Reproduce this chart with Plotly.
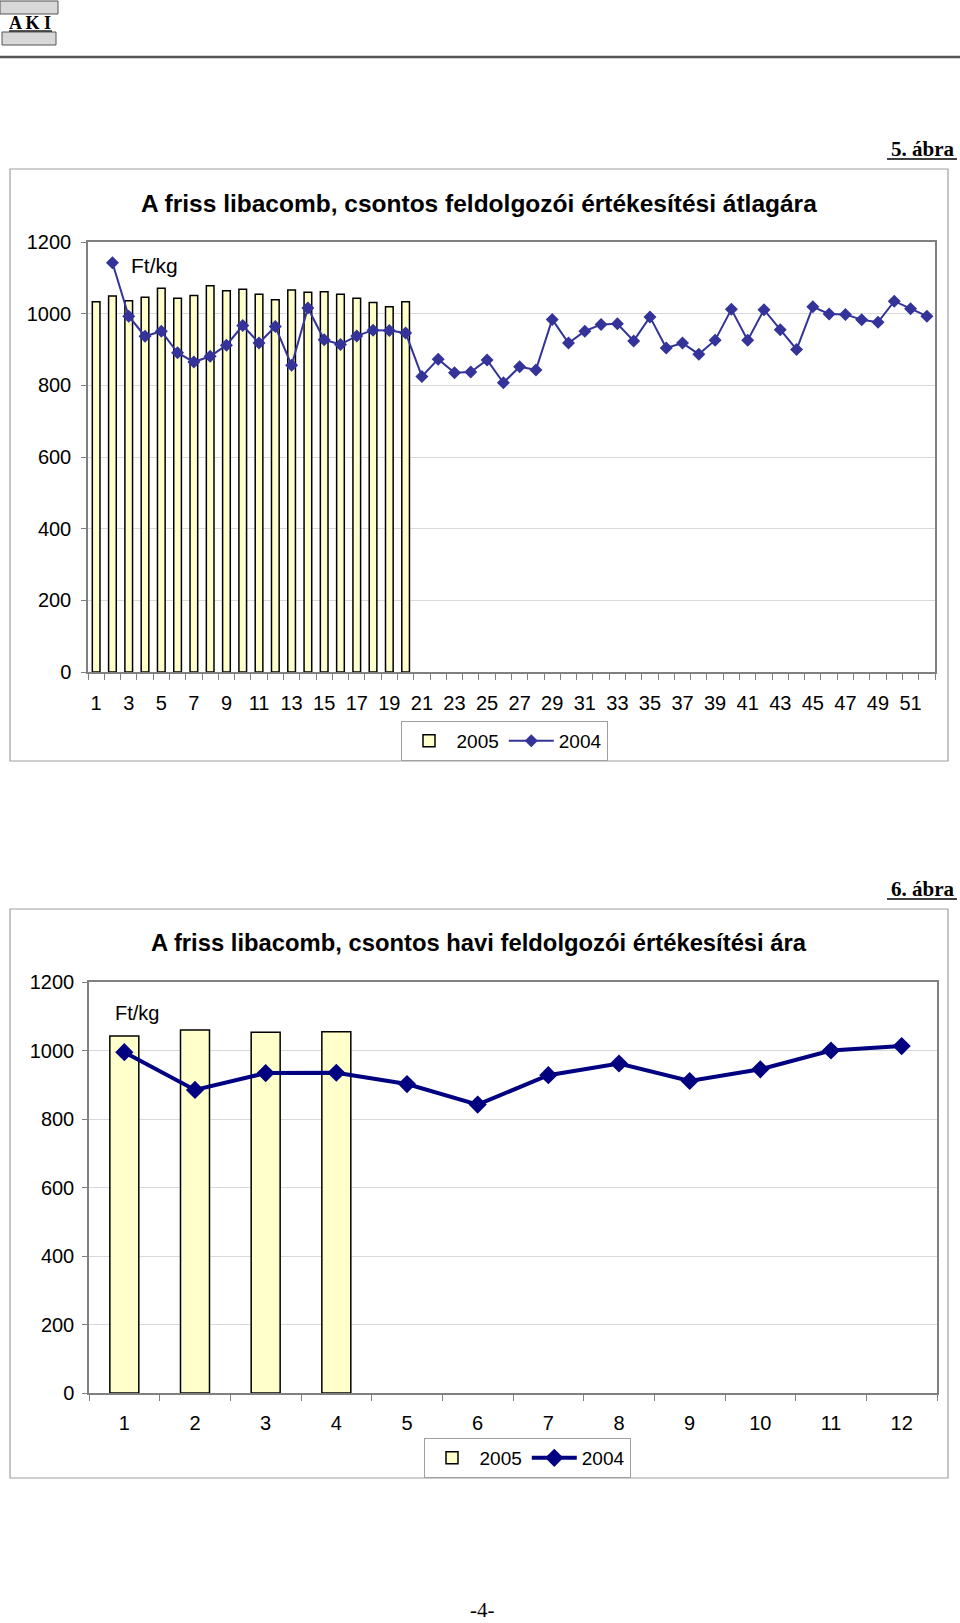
import plotly.graph_objects as go

# ---------------- data ----------------
# Chart 1 (5. ábra): weekly prices, Ft/kg
weeks_2005 = list(range(1, 21))
price_2005_weekly = [1033, 1049, 1036, 1046, 1071, 1043, 1051, 1078, 1064, 1068,
                     1054, 1039, 1066, 1060, 1061, 1054, 1043, 1031, 1019, 1033]
weeks_2004 = list(range(2, 53))
price_2004_weekly = [1142, 993, 937, 951, 891, 865, 881, 912, 967, 918,
                     964, 856, 1016, 927, 914, 938, 954, 953, 946, 825,
                     873, 835, 837, 871, 807, 852, 843, 984, 918, 951,
                     970, 972, 924, 991, 904, 918, 887, 926, 1012, 926,
                     1011, 955, 900, 1019, 999, 998, 983, 976, 1035, 1014, 993]
week_tick_vals = [1, 3, 5, 7, 9, 11, 13, 15, 17, 19, 21, 23, 25, 27, 29, 31, 33,
                  35, 37, 39, 41, 43, 45, 47, 49, 51]
week_tick_text = ["1", "3", "5", "7", "9", "11", "13", "15", "17", "19", "21", "23",
                  "25", "27", "29", "31", "33", "35", "37", "39", "41", "43", "45",
                  "47", "49", "51"]

# Chart 2 (6. ábra): monthly prices, Ft/kg
months_2005 = [1, 2, 3, 4]
price_2005_monthly = [1042, 1060, 1053, 1055]
months_2004 = [1, 2, 3, 4, 5, 6, 7, 8, 9, 10, 11, 12]
price_2004_monthly = [995, 885, 934, 935, 902, 842, 928, 962, 911, 945, 1000, 1013]
month_tick_text = ["1", "2", "3", "4", "5", "6", "7", "8", "9", "10", "11", "12"]

W, H = 960, 1623
FONT = "Arial, Liberation Sans, sans-serif"
SERIF = "Times New Roman, Liberation Serif, serif"


def px(x):
    return x / W


def py(y):
    return 1 - y / H


fig = go.Figure()

# ---- chart 1 traces ----
fig.add_trace(go.Bar(
    x=weeks_2005, y=price_2005_weekly, name="2005", width=0.47,
    marker=dict(color="#FFFFCC", line=dict(color="black", width=1.5)),
    xaxis="x", yaxis="y", legend="legend"))
fig.add_trace(go.Scatter(
    x=weeks_2004, y=price_2004_weekly, name="2004", mode="lines+markers",
    line=dict(color="#333399", width=2),
    marker=dict(symbol="diamond", size=10, color="#333399"),
    xaxis="x", yaxis="y", legend="legend"))

# ---- chart 2 traces ----
fig.add_trace(go.Bar(
    x=months_2005, y=price_2005_monthly, name="2005", width=0.41,
    marker=dict(color="#FFFFCC", line=dict(color="black", width=1.5)),
    xaxis="x2", yaxis="y2", legend="legend2"))
fig.add_trace(go.Scatter(
    x=months_2004, y=price_2004_monthly, name="2004", mode="lines+markers",
    line=dict(color="#000080", width=4),
    marker=dict(symbol="diamond", size=14, color="#000080"),
    xaxis="x2", yaxis="y2", legend="legend2"))

axis_font = dict(family=FONT, size=20, color="black")
common_y = dict(range=[0, 1200], dtick=200, tick0=0, showgrid=True, gridcolor="#D9D9D9",
                gridwidth=1, showline=True, linecolor="#808080", linewidth=1.5,
                mirror=True, ticks="outside", ticklen=5, tickcolor="#808080",
                tickfont=axis_font, zeroline=False, fixedrange=True)

fig.update_layout(
    width=W, height=H, margin=dict(l=0, r=0, t=0, b=0, pad=0, autoexpand=False),
    paper_bgcolor="white", plot_bgcolor="white", barmode="overlay",
    font=dict(family=FONT, color="black"),
    xaxis=dict(domain=[px(88), px(935)], anchor="y", range=[0.5, 52.5],
               tickmode="array", tickvals=week_tick_vals, ticktext=week_tick_text,
               ticks="", tickfont=axis_font, showgrid=False, zeroline=False,
               showline=True, linecolor="#808080", linewidth=1.5, mirror=True,
               ticklabelstandoff=12,
               minor=dict(tickmode="array", tickvals=[i + 0.5 for i in range(0, 53)],
                          ticks="outside", ticklen=6, tickcolor="#808080", showgrid=False)),
    yaxis=dict(domain=[py(672), py(242)], anchor="x", ticklabelstandoff=6, **common_y),
    xaxis2=dict(domain=[px(89), px(937)], anchor="y2", range=[0.5, 12.5],
                tickmode="array", tickvals=months_2004, ticktext=month_tick_text,
                ticks="", tickfont=axis_font, showgrid=False, zeroline=False,
                showline=True, linecolor="#808080", linewidth=1.5, mirror=True,
                ticklabelstandoff=11,
                minor=dict(tickmode="array", tickvals=[i + 0.5 for i in range(0, 13)],
                           ticks="outside", ticklen=6, tickcolor="#808080", showgrid=False)),
    yaxis2=dict(domain=[py(1393), py(982)], anchor="x2", ticklabelstandoff=4, **common_y),
    legend=dict(orientation="h", x=px(504), xanchor="center", y=py(721), yanchor="top",
                bordercolor="#A0A0A0", borderwidth=1, font=dict(family=FONT, size=19),
                bgcolor="white", itemwidth=45, tracegroupgap=0),
    legend2=dict(orientation="h", x=px(527), xanchor="center", y=py(1438), yanchor="top",
                 bordercolor="#A0A0A0", borderwidth=1, font=dict(family=FONT, size=19),
                 bgcolor="white", itemwidth=45, tracegroupgap=0),
    showlegend=True,
)

shapes = [
    # header rule
    dict(type="line", xref="paper", yref="paper", x0=0, x1=1, y0=py(57), y1=py(57),
         line=dict(color="#555555", width=2.5)),
    # logo elements
    dict(type="rect", xref="paper", yref="paper", x0=px(0), x1=px(58), y0=py(14), y1=py(1),
         line=dict(color="#555555", width=1), fillcolor="#D8D8D8"),
    dict(type="rect", xref="paper", yref="paper", x0=px(2), x1=px(56), y0=py(45), y1=py(32),
         line=dict(color="#555555", width=1), fillcolor="#D8D8D8"),
    dict(type="line", xref="paper", yref="paper", x0=px(9), x1=px(52), y0=py(31), y1=py(31),
         line=dict(color="#222222", width=1.5)),
    # chart boxes
    dict(type="rect", xref="paper", yref="paper", x0=px(10), x1=px(948), y0=py(761), y1=py(169),
         line=dict(color="#A0A0A0", width=1.2), layer="below"),
    dict(type="rect", xref="paper", yref="paper", x0=px(10), x1=px(948), y0=py(1478), y1=py(909),
         line=dict(color="#A0A0A0", width=1.2), layer="below"),
    # underline of figure labels
    dict(type="line", xref="paper", yref="paper", x0=px(887), x1=px(957), y0=py(159), y1=py(159),
         line=dict(color="black", width=1.5)),
    dict(type="line", xref="paper", yref="paper", x0=px(887), x1=px(957), y0=py(899), y1=py(899),
         line=dict(color="black", width=1.5)),
]

annotations = [
    dict(text="<b>A K I</b>", x=px(30), y=py(23), xanchor="center", yanchor="middle",
         font=dict(family=SERIF, size=18, color="black"), showarrow=False,
         xref="paper", yref="paper"),
    dict(text="<b>5. ábra</b>", x=px(957), y=py(149), xanchor="right", yanchor="middle",
         font=dict(family=SERIF, size=21, color="black"), showarrow=False,
         xref="paper", yref="paper"),
    dict(text="<b>A friss libacomb, csontos feldolgozói értékesítési átlagára</b>",
         x=px(479), y=py(203), xanchor="center", yanchor="middle",
         font=dict(family=FONT, size=24.5, color="black"), showarrow=False,
         xref="paper", yref="paper"),
    dict(text="Ft/kg", x=px(129), y=py(265), xanchor="left", yanchor="middle",
         font=dict(family=FONT, size=21, color="black"), showarrow=False,
         xref="paper", yref="paper"),
    dict(text="<b>6. ábra</b>", x=px(957), y=py(889), xanchor="right", yanchor="middle",
         font=dict(family=SERIF, size=21, color="black"), showarrow=False,
         xref="paper", yref="paper"),
    dict(text="<b>A friss libacomb, csontos havi feldolgozói értékesítési ára</b>",
         x=px(479), y=py(942), xanchor="center", yanchor="middle",
         font=dict(family=FONT, size=23.8, color="black"), showarrow=False,
         xref="paper", yref="paper"),
    dict(text="Ft/kg", x=px(113), y=py(1013), xanchor="left", yanchor="middle",
         font=dict(family=FONT, size=20, color="black"), showarrow=False,
         xref="paper", yref="paper"),
    dict(text="-4-", x=px(482), y=py(1610), xanchor="center", yanchor="middle",
         font=dict(family=SERIF, size=21, color="black"), showarrow=False,
         xref="paper", yref="paper"),
]

fig.update_layout(shapes=shapes, annotations=annotations)

post = (
    "document.documentElement.style.margin='0';"
    "document.documentElement.style.overflow='hidden';"
    "document.body.style.margin='0';"
    "document.body.style.padding='0';"
    "document.body.style.overflow='hidden';"
    "var d=document.getElementById('{plot_id}');"
    "d.style.position='absolute';d.style.left='0px';d.style.top='0px';"
)

fig.write_html("out.html", post_script=post, config={"displayModeBar": False})
